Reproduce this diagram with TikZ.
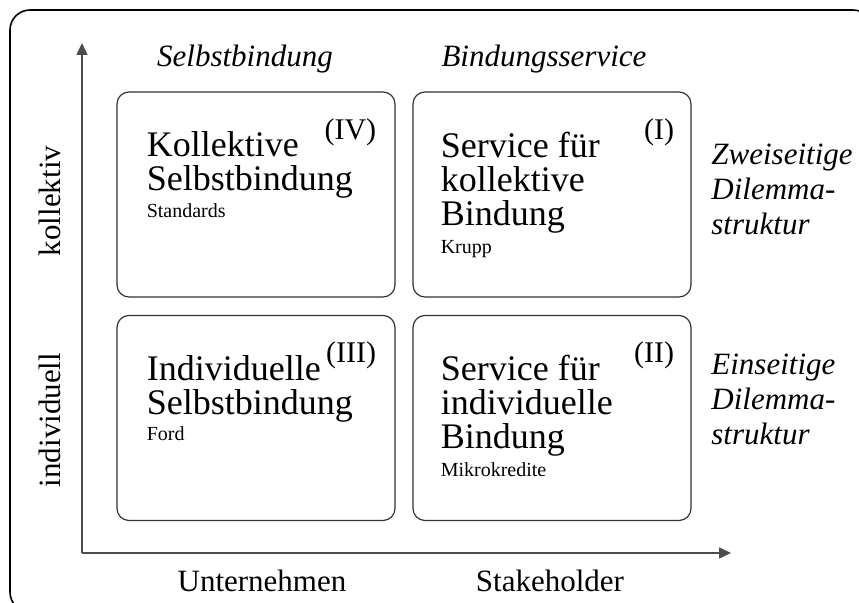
\documentclass[tikz,border=0pt]{standalone}
\usepackage{fontspec}
\setmainfont{Liberation Serif}
\usepackage{tikz}
\usetikzlibrary{arrows.meta, positioning, calc}

\begin{document}
\begin{tikzpicture}[
  x=0.5pt, y=-0.5pt,
  feld/.style={draw=black!80, line width=0.6pt, rounded corners=6pt,
    minimum width=139pt, minimum height=102.5pt, inner sep=0pt},
  gross/.style={font=\fontsize{18}{17}\selectfont, align=left, anchor=north west, inner sep=0pt},
  klein/.style={font=\fontsize{10}{12}\selectfont, anchor=base west, inner sep=0pt},
  nummer/.style={font=\fontsize{15}{17}\selectfont, anchor=base east, inner sep=0pt},
  kopf/.style={font=\fontsize{15.5}{17.5}\selectfont\itshape, anchor=base, inner sep=0pt},
  seite/.style={font=\fontsize{15.5}{17.5}\selectfont\itshape, align=left, anchor=north west, inner sep=0pt},
  achse/.style={font=\fontsize{15.5}{17.5}\selectfont, inner sep=0pt},
  pfeil/.style={draw=black!70, line width=0.8pt, -{Triangle[length=6pt,width=5.5pt]}},
]
\clip (0,0) rectangle (859,603);
\useasboundingbox (0,0) rectangle (859,603);
% Rahmen
\draw[line width=0.8pt, rounded corners=10pt] (10,10) rectangle (873,612);

% Achsen
\coordinate (ursprung) at (82,553);
\coordinate (yende) at (82,43);
\coordinate (xende) at (731,553);
\draw[pfeil] (ursprung) -- (yende);
\draw[pfeil] (ursprung) -- (xende);

% Felder
\node[feld] (kollsb) at (256,194.5) {};
\node[feld] (kollsv) at (552,194.5) {};
\node[feld] (indsb) at (256,418) {};
\node[feld] (indsv) at (552,418) {};

% Texte in den Feldern
\node[gross] (t4) at ($(kollsb.north west)+(30,40)$) {Kollektive\\Selbstbindung};
\node[klein] at ($(kollsb.north west)+(30,126)$) {Standards};
\node[nummer] at ($(kollsb.north east)+(-19,48)$) {(IV)};

\node[gross] (t1) at ($(kollsv.north west)+(28,40)$) {Service für\\kollektive\\Bindung};
\node[klein] at ($(kollsv.north west)+(28,162)$) {Krupp};
\node[nummer] at ($(kollsv.north east)+(-17,48)$) {(I)};

\node[gross] (t3) at ($(indsb.north west)+(30,40)$) {Individuelle\\Selbstbindung};
\node[klein] at ($(indsb.north west)+(30,126)$) {Ford};
\node[nummer] at ($(indsb.north east)+(-19,48)$) {(III)};

\node[gross] (t2) at ($(indsv.north west)+(28,40)$) {Service für\\individuelle\\Bindung};
\node[klein] at ($(indsv.north west)+(28,162)$) {Mikrokredite};
\node[nummer] at ($(indsv.north east)+(-17,48)$) {(II)};

% Kopfzeile
\node[kopf] (selbst) at (245,67) {Selbstbindung};
\node[kopf] (service) at (544,67) {Bindungsservice};

% rechte Seite
\node[seite] (zwei) at (711,144) {Zweiseitige\\Dilemma-\\struktur};
\node[seite] (ein) at (711,354) {Einseitige\\Dilemma-\\struktur};

% Achsenbeschriftung
\node[achse, rotate=90] (koll) at (50,201) {kollektiv};
\node[achse, rotate=90] (indiv) at (50,420) {individuell};
\node[achse, anchor=base] (unt) at (262,592) {Unternehmen};
\node[achse, anchor=base] (stake) at (550,592) {Stakeholder};
\end{tikzpicture}
\end{document}
